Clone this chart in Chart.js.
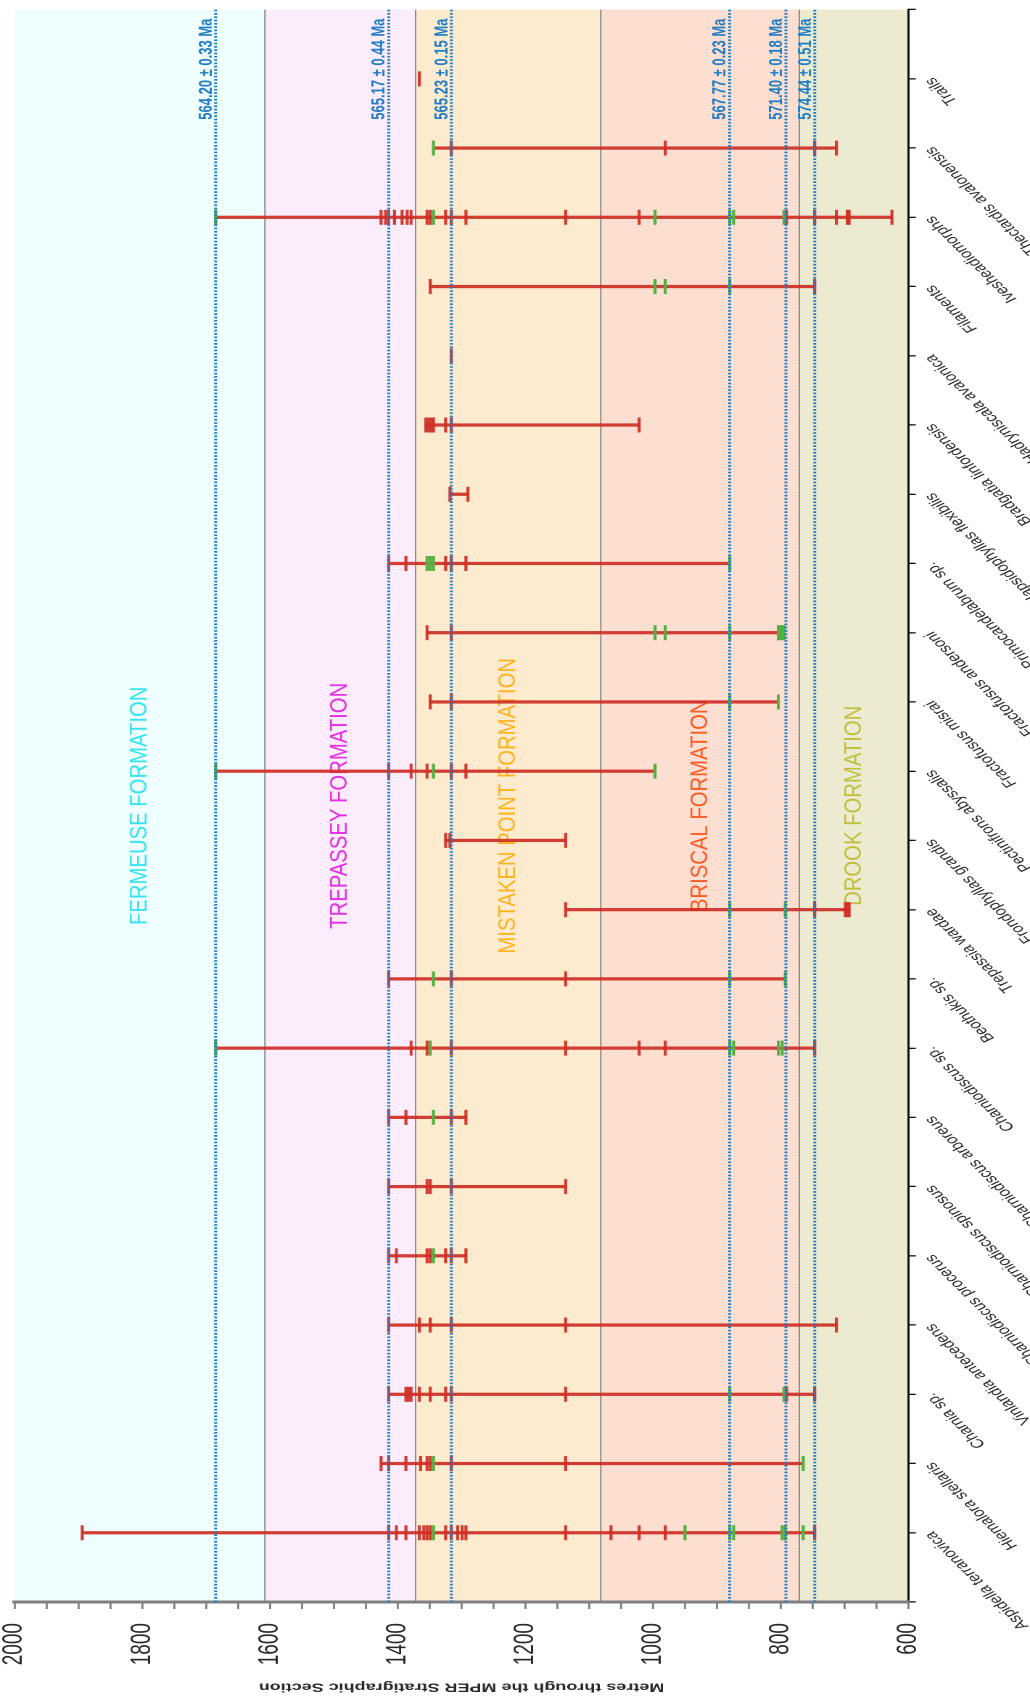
<!DOCTYPE html>
<html>
<head>
<meta charset="utf-8">
<title>MPER stratigraphic ranges</title>
<script src="https://cdn.jsdelivr.net/npm/chart.js@4.4.1/dist/chart.umd.min.js"></script>
<style>
  html, body { margin: 0; padding: 0; background: #fff; overflow: hidden; }
  body { width: 1030px; height: 1703px; position: relative; }
  /* drawn landscape, then turned a quarter turn anticlockwise;
     the metres direction is stretched a bit like the source figure */
  #frame {
    position: absolute; left: 0; top: 0;
    width: 1703px; height: 710px;
    transform-origin: 0 0;
    transform: translate(0, 1703px) rotate(-90deg) scale(1, 1.4507);
  }
</style>
</head>
<body>
<div id="frame"><canvas id="ranges"></canvas></div>
<script>
const species = [
  'Aspidella terranovica', 'Hiemalora stellaris', 'Charnia sp.', 'Vinlandia antecedens',
  'Charniodiscus procerus', 'Charniodiscus spinosus', 'Charniodiscus arboreus', 'Charniodiscus sp.',
  'Beothukis sp.', 'Trepassia wardae', 'Frondophyllas grandis', 'Pectinifrons abyssalis',
  'Fractofusus misrai', 'Fractofusus andersoni', 'Primocandelabrum sp.', 'Hapsidophyllas flexibilis',
  'Bradgatia linfordensis', 'Hadryniscala avalonica', 'Filaments', 'Ivesheadiomorphs',
  'Thectardis avalonensis', 'Trails'
];

// occurrence levels (metres) per species, red and green marks
const redLevels = [
  [1894, 1414, 1402, 1387, 1366, 1359, 1354, 1349, 1325, 1316, 1306, 1299, 1293, 1137, 1066, 1022, 981, 747],
  [1426, 1414, 1387, 1364, 1354, 1349, 1316, 1137],
  [1414, 1387, 1383, 1379, 1366, 1349, 1325, 1316, 1137, 791, 747],
  [1414, 1366, 1349, 1316, 1137, 713],
  [1414, 1402, 1354, 1349, 1325, 1316, 1293],
  [1414, 1354, 1349, 1316, 1137],
  [1414, 1387, 1316, 1293],
  [1379, 1354, 1316, 1137, 1022, 981, 747],
  [1414, 1316, 1137],
  [1137, 747, 699, 696, 693],
  [1325, 1318, 1137],
  [1414, 1379, 1354, 1316, 1293],
  [1349, 1316],
  [1354, 1316],
  [1414, 1387, 1325, 1316, 1293],
  [1318, 1290],
  [1356, 1352, 1348, 1344, 1325, 1316, 1022],
  [1316],
  [1349, 747],
  [1426, 1419, 1414, 1405, 1393, 1385, 1379, 1354, 1349, 1325, 1316, 1293, 1137, 1022, 791, 747, 713, 696, 693, 626],
  [1316, 981, 747, 713],
  [1366]
];
const greenLevels = [
  [1344, 950, 880, 874, 798, 793, 765],
  [1344, 765],
  [880, 795],
  [],
  [1344],
  [],
  [1344],
  [1685, 1349, 880, 874, 804, 798],
  [1344, 880, 793],
  [880, 793],
  [],
  [1685, 1344, 997],
  [880, 804],
  [997, 981, 880, 804, 801, 798, 795],
  [1354, 1349, 1344, 880],
  [],
  [],
  [],
  [997, 981, 880],
  [1685, 1344, 997, 880, 874, 795],
  [1344],
  []
];

const formations = ['FERMEUSE FORMATION', 'TREPASSEY FORMATION', 'MISTAKEN POINT FORMATION', 'BRISCAL FORMATION', 'DROOK FORMATION'];
const formationTops = [2000, 1608, 1372, 1082, 771];
const formationBases = [1608, 1372, 1082, 771, 600];
const formationFills = ['#effefe', '#fdecfb', '#fdebd0', '#fcdfd1', '#ecebd2'];
const formationInks = ['#35e3f0', '#e42de4', '#ffb21e', '#ff5a22', '#bfbf3e'];

const dateLevels = [1685, 1414, 1316, 880, 792, 747];
const dateLabels = ['564.20 ± 0.33 Ma', '565.17 ± 0.44 Ma', '565.23 ± 0.15 Ma', '567.77 ± 0.23 Ma', '571.40 ± 0.18 Ma', '574.44 ± 0.51 Ma'];

const RED = 'rgba(206, 46, 36, 0.92)';
const GREEN = '#55b043';
const DATE_BLUE = '#1f7cc6';

Chart.defaults.font.family = "'Liberation Sans', Arial, sans-serif";

// empty slot at each end of the species axis
const axisLabels = ['', ...species, ''];

const ranges = axisLabels.map((name, i) => {
  if (!name) return null;
  const all = redLevels[i - 1].concat(greenLevels[i - 1]);
  return [Math.min(...all), Math.max(...all)];
});

const toPoints = (levels) => species.flatMap((name, i) => levels[i].map(v => ({ x: name, y: v })));

const formationPlugin = {
  id: 'formations',
  beforeDraw(chart) {
    const { ctx, chartArea: area, scales: { x, y } } = chart;
    ctx.save();
    formations.forEach((name, i) => {
      const top = y.getPixelForValue(formationTops[i]);
      const bottom = y.getPixelForValue(formationBases[i]);
      ctx.fillStyle = formationFills[i];
      ctx.fillRect(area.left, top, area.right - area.left, bottom - top);
    });
    ctx.strokeStyle = '#8c8c8c';
    ctx.lineWidth = 1;
    formationBases.slice(0, -1).forEach(v => {
      const py = y.getPixelForValue(v);
      ctx.beginPath();
      ctx.moveTo(area.left, py);
      ctx.lineTo(area.right, py);
      ctx.stroke();
    });
    // names sit in the middle of each band
    ctx.font = "20.3px 'Liberation Sans', Arial, sans-serif";
    ctx.textAlign = 'center';
    ctx.textBaseline = 'middle';
    const px = x.getPixelForValue(11.5);
    formations.forEach((name, i) => {
      const py = y.getPixelForValue((formationTops[i] + formationBases[i]) / 2);
      ctx.save();
      ctx.translate(px, py);
      ctx.scale(1, 0.84);
      ctx.fillStyle = formationInks[i];
      ctx.fillText(name, 0, 0);
      ctx.restore();
    });
    ctx.restore();
  }
};

const datePlugin = {
  id: 'dates',
  afterDatasetsDraw(chart) {
    const { ctx, chartArea: area, scales: { y } } = chart;
    ctx.save();
    ctx.strokeStyle = DATE_BLUE;
    ctx.fillStyle = DATE_BLUE;
    ctx.lineWidth = 2;
    ctx.setLineDash([1.7, 1.6]);
    ctx.font = "bold 13px 'Liberation Sans', Arial, sans-serif";
    ctx.textAlign = 'right';
    ctx.textBaseline = 'alphabetic';
    dateLevels.forEach((v, i) => {
      const py = y.getPixelForValue(v);
      ctx.beginPath();
      ctx.moveTo(area.left, py);
      ctx.lineTo(area.right, py);
      ctx.stroke();
      ctx.fillText(dateLabels[i], area.right - 9, py - 2.8);
    });
    ctx.restore();
  }
};

new Chart(document.getElementById('ranges'), {
  type: 'bar',
  data: {
    labels: axisLabels,
    datasets: [
      {
        type: 'bar',
        data: ranges,
        backgroundColor: RED,
        borderWidth: 0,
        barThickness: 2.6,
        order: 3
      },
      {
        type: 'line',
        data: toPoints(redLevels),
        showLine: false,
        pointStyle: 'line',
        pointRadius: 7.5,
        pointBorderWidth: 2.1,
        pointBorderColor: RED,
        order: 2
      },
      {
        type: 'line',
        data: toPoints(greenLevels),
        showLine: false,
        pointStyle: 'line',
        pointRadius: 7.5,
        pointBorderWidth: 2.1,
        pointBorderColor: GREEN,
        order: 1
      }
    ]
  },
  options: {
    responsive: true,
    maintainAspectRatio: false,
    devicePixelRatio: 2,
    animation: false,
    layout: { padding: { top: 0, right: 6, bottom: 0, left: 0 } },
    plugins: {
      legend: { display: false },
      tooltip: { enabled: false }
    },
    scales: {
      x: {
        type: 'category',
        offset: false,
        grid: { drawOnChartArea: false, offset: false, tickLength: 5, color: '#111', lineWidth: 1.3 },
        border: { color: '#111', width: 1.5 },
        ticks: {
          autoSkip: false,
          minRotation: 34.6,
          maxRotation: 34.6,
          padding: 3,
          color: '#2a2a2a',
          font: { size: 12.5 }
        },
        afterFit: (scale) => {
          scale.height = 83.7;
          scale.paddingLeft = 0;
          scale.paddingRight = 0;
        }
      },
      y: {
        min: 600,
        max: 2000,
        grid: { drawOnChartArea: false, tickLength: 7, color: '#7f7f7f', lineWidth: 1.4 },
        border: { color: '#7f7f7f', width: 3 },
        ticks: {
          stepSize: 50,
          autoSkip: false,
          padding: 14,
          color: '#2a2a2a',
          font: { size: 19, lineHeight: 1.05 },
          callback: (value) => (value % 200 === 0 ? String(value) : '')
        },
        title: {
          display: true,
          text: 'Metres through the MPER Stratigraphic Section',
          color: '#2a2a2a',
          font: { size: 12.4, weight: 'bold' },
          padding: { top: 8.7, bottom: 2 }
        },
        afterFit: (scale) => {
          scale.width = 101;
          scale.paddingTop = 10;
          scale.paddingBottom = 10;
        }
      }
    }
  },
  plugins: [formationPlugin, datePlugin]
});
</script>
</body>
</html>
